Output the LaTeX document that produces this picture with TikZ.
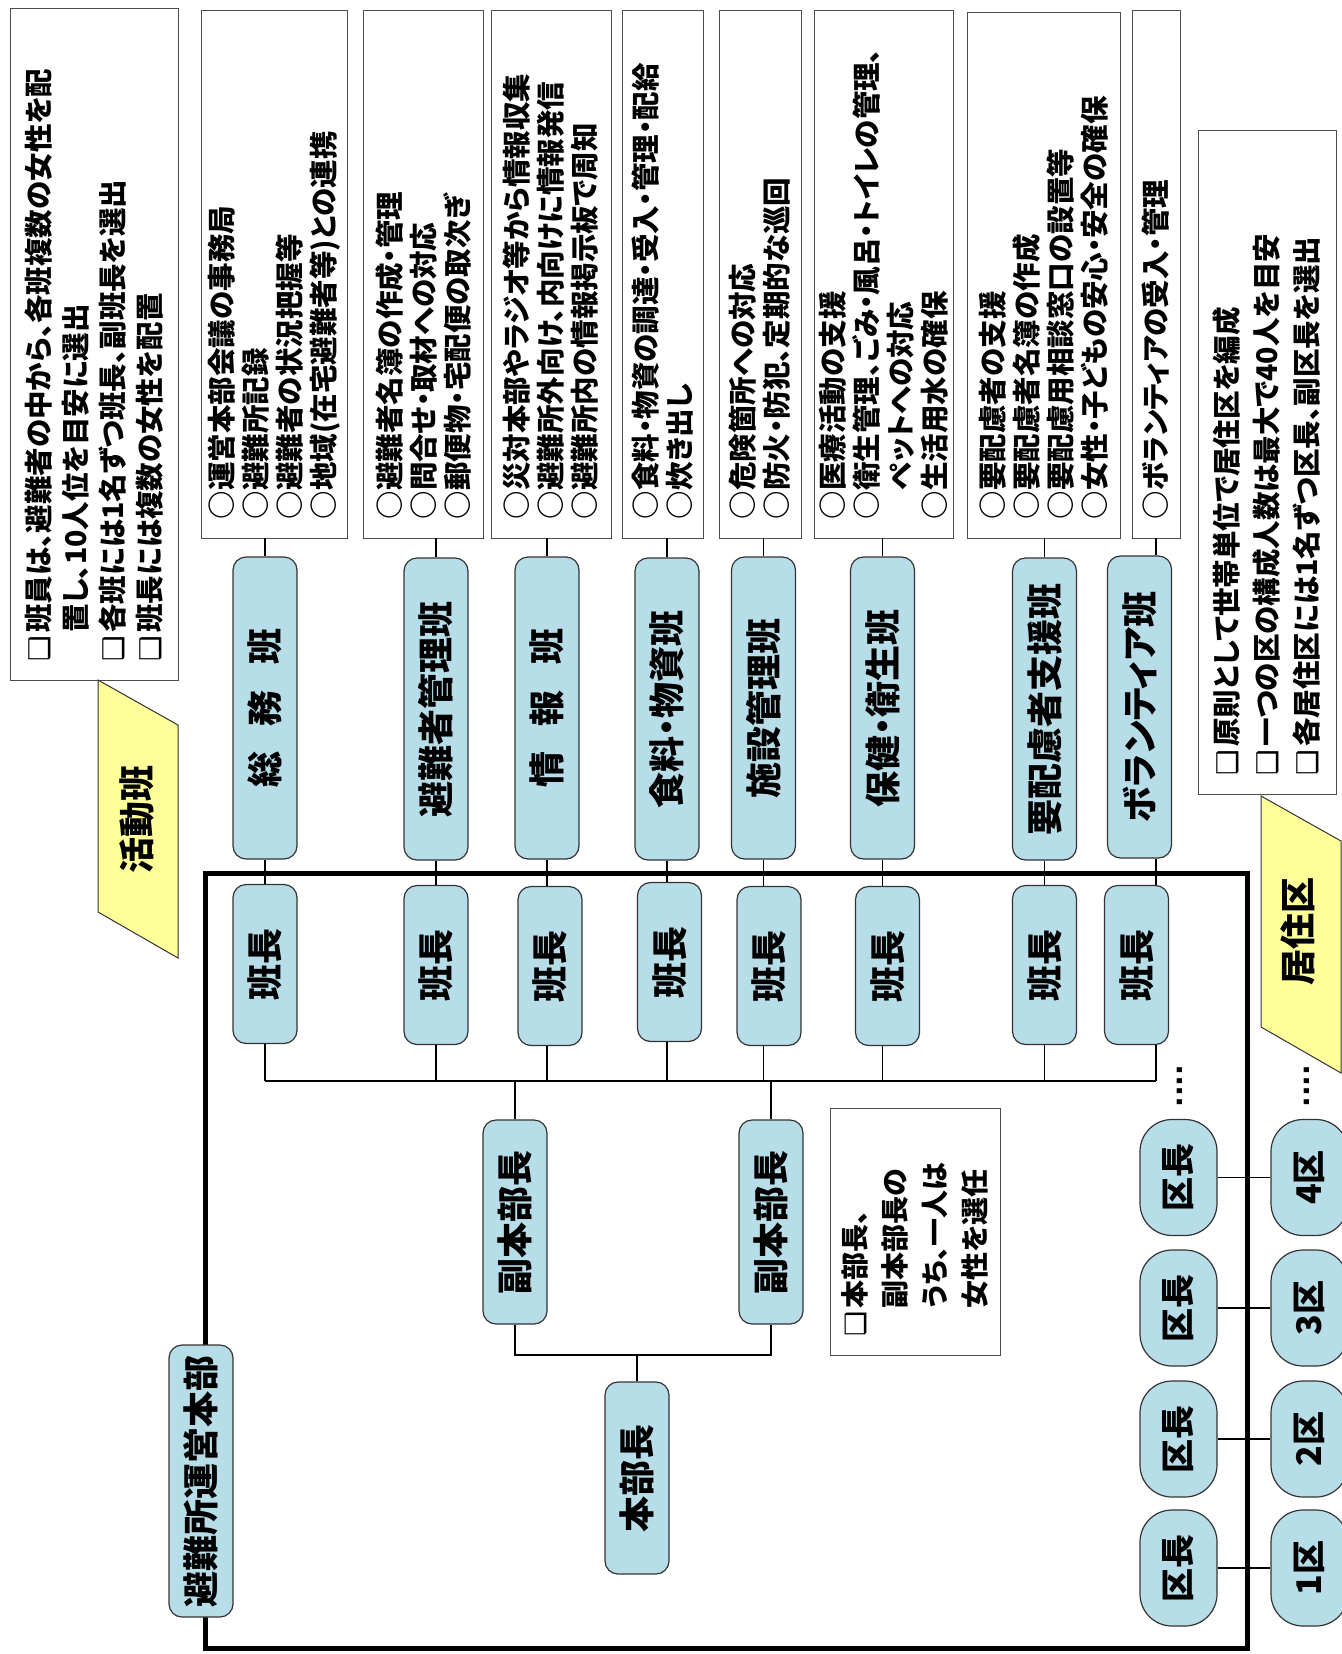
\documentclass[tikz,border=0pt]{standalone}
\usepackage{fontspec}
\setmainfont{Noto Sans CJK JP}[RawFeature=+palt]
\newfontfamily\symfont{DejaVu Sans}
\definecolor{hanblue}{HTML}{B7DDE8}
\definecolor{taby}{HTML}{FFFF99}
\newcommand{\sqm}{\makebox[1em][l]{\symfont\mdseries ❑}}
\newcommand{\descfont}{\bfseries\fontsize{28.5}{34}\selectfont}
\newcommand{\labfont}{\bfseries\fontsize{36}{40}\selectfont}
\tikzset{
	desc/.style 2 args={draw=black!70, line width=0.9pt, rotate=90, inner xsep=19pt, inner ysep=0pt,
		align=left, text width=#1, minimum height=#2, font=\descfont},
	team/.style={draw=black!80, line width=1.2pt, fill=hanblue, rounded corners=13pt, rotate=90,
		minimum width=302pt, minimum height=64pt, inner sep=0pt, font=\labfont},
	chief/.style={team, minimum width=159pt},
	ward/.style={team, rounded corners=32pt, minimum width=116pt, minimum height=77pt,
		font=\bfseries\fontsize{34}{36}\selectfont},
	tab/.style={draw=black!80, line width=1pt, fill=taby},
	link/.style={line width=1.6pt}
}

\begin{document}
\begin{tikzpicture}[x=1pt, y=-1pt]
	\useasboundingbox (0,0) rectangle (1341,1654);
	% frame of the headquarters
	\draw[line width=5pt] (205,873) rectangle (1247,1648);
	\coordinate (bus) at (0,1081);
	\coordinate (join) at (0,1355);

	% notes and tasks
	\node[desc={634pt}{168pt}, font=\bfseries\fontsize{28.5}{37}\selectfont] (noteL) at (94,344)
		{\sqm 班員は、避難者の中から、各班複数の女性を配\\\hspace*{1em}置し、10人位を目安に選出\\\sqm 各班には1名ずつ班長、副班長を選出\\\sqm 班長には複数の女性を配置};
	\node[desc={490pt}{146pt}] (dSomu) at (274,274)
		{○運営本部会議の事務局\\○避難所記録\\○避難者の状況把握等\\○地域(在宅避難者等)との連携};
	\node[desc={490pt}{120pt}] (dHinan) at (423,274)
		{○避難者名簿の作成・管理\\○問合せ・取材への対応\\○郵便物・宅配便の取次ぎ};
	\node[desc={490pt}{120pt}] (dJoho) at (551,274)
		{○災対本部やラジオ等から情報収集\\○避難所外向け、内向けに情報発信\\○避難所内の情報掲示板で周知};
	\node[desc={490pt}{81pt}] (dShoku) at (662.5,274)
		{○食料・物資の調達・受入・管理・配給\\○炊き出し};
	\node[desc={490pt}{82pt}] (dShisetsu) at (760,274)
		{○危険箇所への対応\\○防火・防犯、定期的な巡回};
	\node[desc={490pt}{139pt}] (dHoken) at (883.5,274)
		{○医療活動の支援\\○衛生管理、ごみ・風呂・トイレの管理、\\\hspace*{1em}ペットへの対応\\○生活用水の確保};
	\node[desc={488pt}{153pt}] (dYou) at (1043.5,275)
		{○要配慮者の支援\\○要配慮者名簿の作成\\○要配慮用相談窓口の設置等\\○女性・子どもの安心・安全の確保};
	\node[desc={490pt}{48pt}] (dVol) at (1156,274) {○ボランティアの受入・管理};
	\node[desc={626pt}{138pt}, font=\bfseries\fontsize{28.5}{40}\selectfont] (noteR) at (1267,462)
		{\sqm 原則として世帯単位で居住区を編成\\\sqm 一つの区の構成人数は最大で40人を目安\\\sqm 各居住区には1名ずつ区長、副区長を選出};
	\node[desc={209pt}{170pt}, font=\bfseries\fontsize{28}{40}\selectfont] (noteHQ) at (915,1231.5)
		{\sqm 本部長、\\\hspace*{1em}副本部長の\\\hspace*{1em}うち、一人は\\\hspace*{1em}女性を選任};

	% tabs
	\draw[tab] (98,680) -- (178,725) -- (178,958) -- (98,912) -- cycle;
	\node[rotate=90, font=\labfont] (actlab) at (137,819) {活動班};
	\draw[tab] (1261,796) -- (1341,841) -- (1341,1073) -- (1261,1027) -- cycle;
	\node[rotate=90, font=\labfont] (warlab) at (1298,931) {居住区};

	% teams
	\node[team] (tSomu) at (265,708) {総\hspace{0.7em}務\hspace{0.7em}班};
	\node[team] (tHinan) at (436,709) {避難者管理班};
	\node[team] (tJoho) at (547,708) {情\hspace{0.7em}報\hspace{0.7em}班};
	\node[team] (tShoku) at (667,709) {食料・物資班};
	\node[team] (tShisetsu) at (763.5,708) {施設管理班};
	\node[team] (tHoken) at (882.5,708) {保健・衛生班};
	\node[team] (tYou) at (1044.5,709) {要配慮者支援班};
	\node[team] (tVol) at (1139.5,707) {ボランティア班};

	% heads of the teams
	\node[chief] (hSomu) at (265,964) {班長};
	\node[chief] (hHinan) at (436,965) {班長};
	\node[chief] (hJoho) at (550,966) {班長};
	\node[chief] (hShoku) at (669.5,962) {班長};
	\node[chief] (hShisetsu) at (769,966) {班長};
	\node[chief] (hHoken) at (887.5,966) {班長};
	\node[chief] (hYou) at (1044.5,965) {班長};
	\node[chief] (hVol) at (1136.5,965) {班長};

	% headquarters
	\node[team, minimum width=204pt] (fL) at (515,1222) {副本部長};
	\node[team, minimum width=204pt] (fR) at (771,1222) {副本部長};
	\node[team, minimum width=192pt] (hb) at (637,1478) {本部長};
	\node[team, minimum width=272pt] (hq) at (201,1481) {避難所運営本部};

	% wards
	\foreach \i/\y in {1/1568, 2/1439, 3/1308, 4/1177.5} {
		\node[ward] (k\i) at (1178.5,\y) {区長};
		\node[ward] (z\i) at (1309.5,\y) {\i 区};
		\draw[link] (k\i.south) -- (z\i.north);
	}
	\node[rotate=90, font=\symfont\bfseries\fontsize{28}{28}\selectfont] (dotsK) at (1180,1086) {....};
	\node[rotate=90, font=\symfont\bfseries\fontsize{28}{28}\selectfont] (dotsZ) at (1307,1086) {....};

	% connectors
	\foreach \n in {Somu,Hinan,Joho,Shoku,Shisetsu,Hoken,You} {
		\draw[link] (t\n.east) -- (t\n.east |- d\n.west);
		\draw[link] (t\n.west) -- (t\n.west |- h\n.east);
		\draw[link] (t\n.west |- h\n.west) -- (t\n.west |- bus);
	}
	\draw[link] (dVol.west) -- (dVol.west |- tVol.east);
	\draw[link] (dVol.west |- tVol.west) -- (dVol.west |- hVol.east);
	\draw[link] (dVol.west |- hVol.west) -- (dVol.west |- bus);
	\draw[link] (tSomu.west |- bus) -- (dVol.west |- bus);
	\draw[link] (fL.east) -- (fL.east |- bus);
	\draw[link] (fR.east) -- (fR.east |- bus);
	\draw[link] (fL.west) -- (fL.west |- join) -| (fR.west);
	\draw[link] (hb.east) -- (hb.east |- join);
\end{tikzpicture}
\end{document}
